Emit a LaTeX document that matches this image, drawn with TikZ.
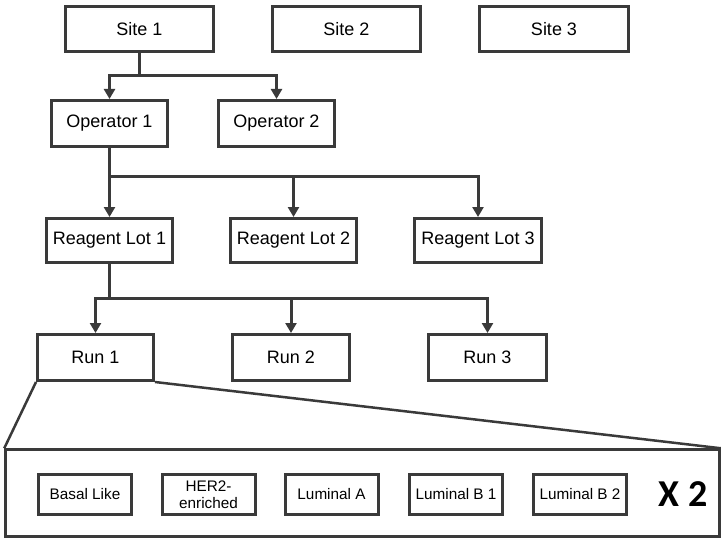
\documentclass[tikz,border=0pt]{standalone}
\usepackage{fontspec}
\setmainfont{Liberation Sans}
\newfontfamily\boldcal{Carlito}
\usetikzlibrary{arrows.meta}
\definecolor{ln}{HTML}{3A3A3A}
\begin{document}
\begin{tikzpicture}[x=1pt,y=-1pt,
  box/.style={draw=ln,line width=3pt,fill=white,inner sep=0pt,font=\fontsize{18}{20}\selectfont},
  small/.style={draw=ln,line width=3pt,fill=white,inner sep=0pt,minimum width=93pt,minimum height=40pt,align=center,font=\fontsize{15.3}{17}\selectfont},
  conn/.style={draw=ln,line width=3pt},
  arr/.style={conn,-{Triangle[width=11pt,length=10pt]}},
  ]
\useasboundingbox (0,0) rectangle (722,540);
% big box
\node[draw=ln,line width=2.5pt,minimum width=714pt,minimum height=87pt,inner sep=0pt] (big) at (362.5,493) {};
% sites
\node[box,minimum width=148pt,minimum height=45pt] (s1) at (139.5,29) {Site 1};
\node[box,minimum width=148pt,minimum height=45pt] (s2) at (346.5,29) {Site 2};
\node[box,minimum width=149pt,minimum height=45pt] (s3) at (554,29) {Site 3};
% operators
\node[box,minimum width=116pt,minimum height=46pt] (o1) at (109.5,123.5) {Operator 1};
\node[box,minimum width=116pt,minimum height=46pt] (o2) at (276.5,123.5) {Operator 2};
% reagent lots
\node[box,minimum width=126pt,minimum height=44pt] (r1) at (109.5,240.5) {Reagent Lot 1};
\node[box,minimum width=126pt,minimum height=44pt] (r2) at (293.5,240.5) {Reagent Lot 2};
\node[box,minimum width=127pt,minimum height=44pt] (r3) at (478,240.5) {Reagent Lot 3};
% runs
\node[box,minimum width=116pt,minimum height=46pt] (u1) at (95.5,357.5) {Run 1};
\node[box,minimum width=117pt,minimum height=46pt] (u2) at (291,357.5) {Run 2};
\node[box,minimum width=118pt,minimum height=46pt] (u3) at (487.5,357.5) {Run 3};
% subtypes
\node[small] (b1) at (85,494.5) {Basal Like};
\node[small] (b2) at (208.5,494.5) {HER2-\\enriched};
\node[small] (b3) at (331.5,494.5) {Luminal A};
\node[small] (b4) at (456,494.5) {Luminal B 1};
\node[small] (b5) at (580,494.5) {Luminal B 2};
\node[font=\boldcal\bfseries\fontsize{38}{40}\selectfont,inner sep=0pt] (x2) at (683,494) {X 2};
% zoom lines
\draw[draw=ln,line width=2.5pt] (u1.south west) -- (big.north west);
\draw[draw=ln,line width=2.5pt] (u1.south east) -- (big.north east);
% connectors
\coordinate (j1) at (139.5,76);
\coordinate (j2) at (109.5,177);
\coordinate (j3) at (109.5,298);
\draw[conn] (s1.south) -- (j1);
\draw[arr] (j1) -| (o1.north);
\draw[arr] (j1) -| (o2.north);
\draw[conn] (o1.south) -- (j2);
\draw[arr] (j2) -- (r1.north);
\draw[arr] (j2) -| (r2.north);
\draw[arr] (j2) -| (r3.north);
\draw[conn] (r1.south) -- (j3);
\draw[arr] (j3) -| (u1.north);
\draw[arr] (j3) -| (u2.north);
\draw[arr] (j3) -| (u3.north);
\end{tikzpicture}
\end{document}
